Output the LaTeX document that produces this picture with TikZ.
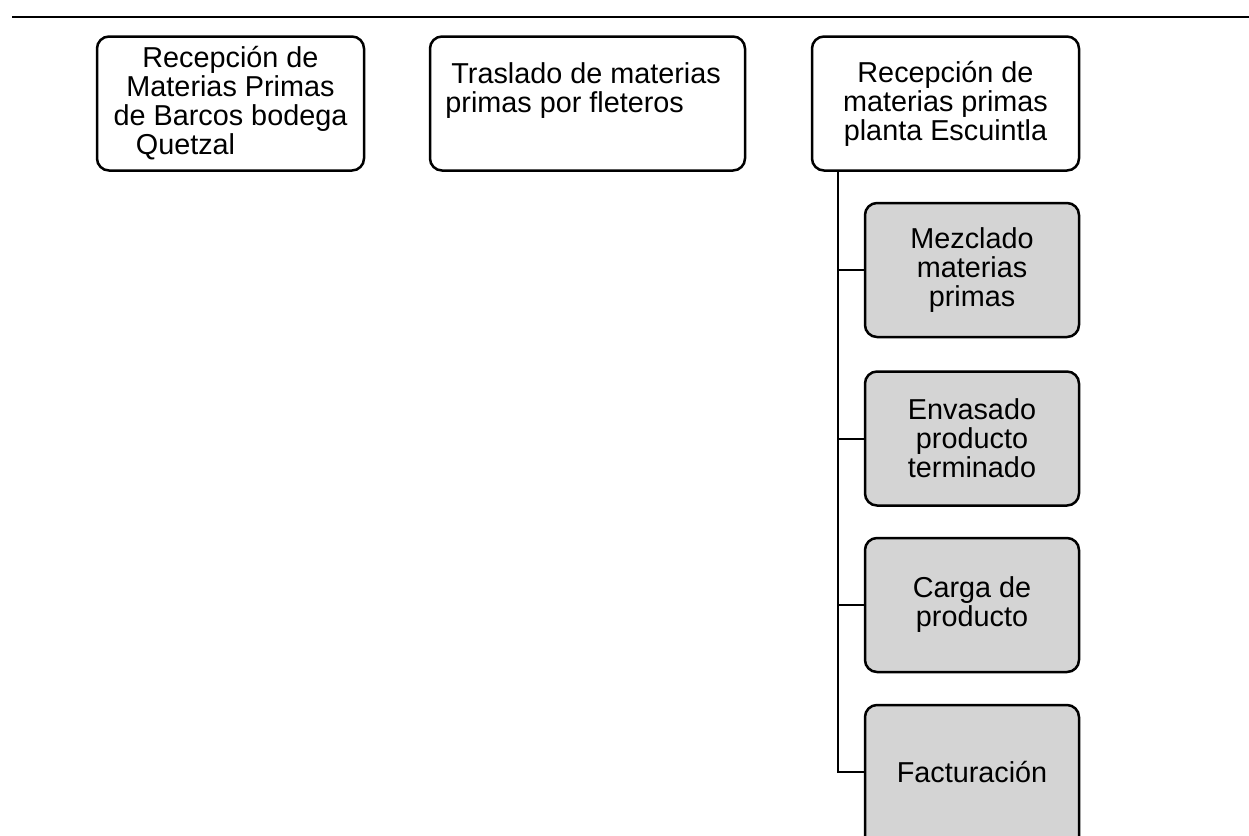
\documentclass[tikz,border=0pt]{standalone}
\usepackage{fontspec}
\setmainfont{Liberation Sans}
\begin{document}
\begin{tikzpicture}[x=0.5pt,y=-0.5pt,
  box/.style={draw=black,line width=1.25pt,rounded corners=6pt,inner sep=0pt,
    font=\fontsize{14.4}{14.5}\selectfont,align=center},
  topbox/.style={box,fill=white,minimum width=133.5pt,minimum height=67pt},
  subbox/.style={box,fill=black!17,minimum width=107pt,minimum height=67pt},
  txt/.style={inner sep=0pt,font=\fontsize{14.4}{14.5}\selectfont},
  conn/.style={draw=black,line width=1pt}]
\useasboundingbox (0,0) rectangle (1249,836);
\coordinate (l0) at (12,17);
\coordinate (l1) at (1249,17);
\draw[line width=1.1pt] (l0) -- (l1);

\node[topbox] (b1) at (230.5,103.5) {Recepción de\\Materias Primas\\de Barcos bodega\\Quetzal\hspace*{45pt}};
\node[topbox,minimum width=157.5pt] (b2) at (587.5,103.5) {};
\node[txt,align=left,anchor=north west] (b2t) at (445,62) {\hspace*{3pt}Traslado de materias\\primas por fleteros};
\node[topbox] (b3) at (945.5,103.5) {Recepción de\\materias primas\\planta Escuintla};

\node[subbox] (s1) at (972,270) {Mezclado\\materias\\primas};
\node[subbox] (s2) at (972,438.5) {Envasado\\producto\\terminado};
\node[subbox] (s3) at (972,605) {Carga de\\producto};
\node[subbox,minimum height=72pt] (s4) at (972,777) {\raisebox{2.5pt}[\height][\depth]{Facturación}};

\coordinate (t) at (838,170);
\draw[conn] (t) |- ([yshift=2.5pt]s4.west);
\draw[conn] (t |- s1.west) -- (s1.west);
\draw[conn] (t |- s2.west) -- (s2.west);
\draw[conn] (t |- s3.west) -- (s3.west);
\end{tikzpicture}
\end{document}
